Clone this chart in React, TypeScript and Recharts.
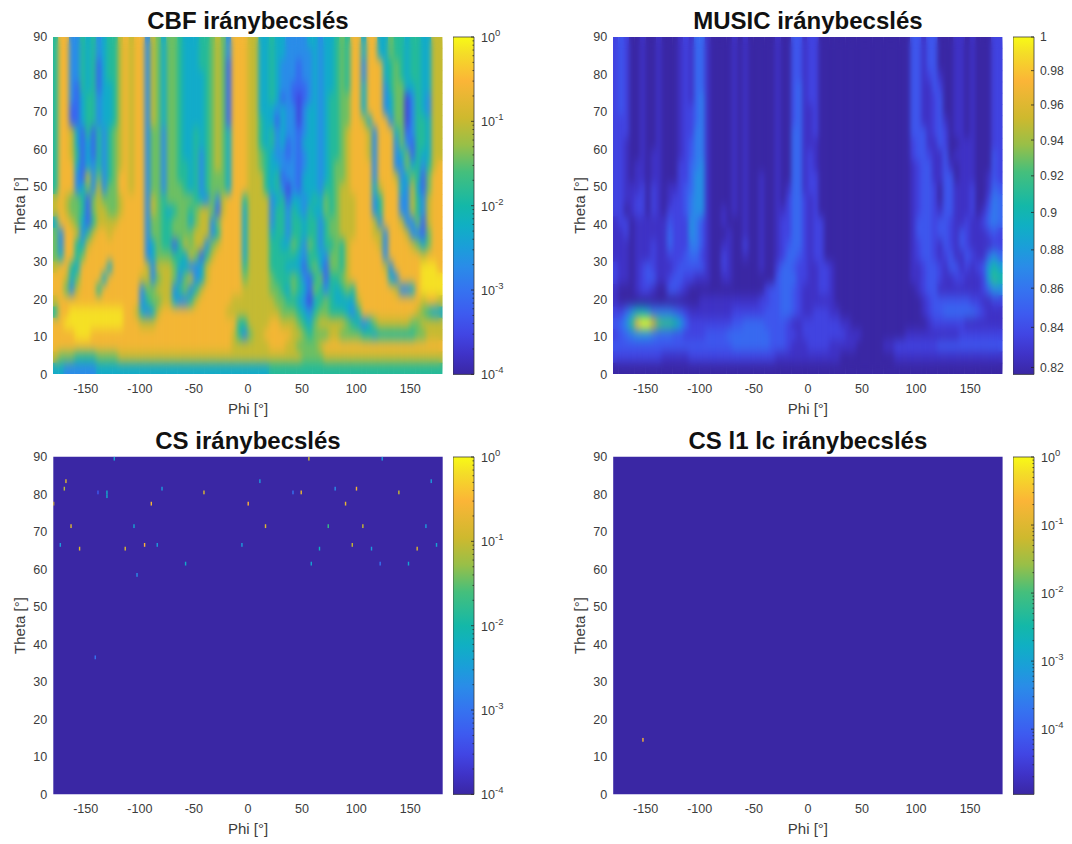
import { ScatterChart, Scatter, XAxis, YAxis, ReferenceArea, Label } from "recharts"

const phiCenters = [
  -177.5, -172.5, -167.5, -162.5, -157.5, -152.5, -147.5, -142.5, -137.5, -132.5, -127.5, -122.5,
  -117.5, -112.5, -107.5, -102.5, -97.5, -92.5, -87.5, -82.5, -77.5, -72.5, -67.5, -62.5,
  -57.5, -52.5, -47.5, -42.5, -37.5, -32.5, -27.5, -22.5, -17.5, -12.5, -7.5, -2.5,
  2.5, 7.5, 12.5, 17.5, 22.5, 27.5, 32.5, 37.5, 42.5, 47.5, 52.5, 57.5,
  62.5, 67.5, 72.5, 77.5, 82.5, 87.5, 92.5, 97.5, 102.5, 107.5, 112.5, 117.5,
  122.5, 127.5, 132.5, 137.5, 142.5, 147.5, 152.5, 157.5, 162.5, 167.5, 172.5, 177.5,
]
const thetaCenters = [
  88.5, 85.5, 82.5, 79.5, 76.5, 73.5, 70.5, 67.5, 64.5, 61.5, 58.5, 55.5, 52.5, 49.5, 46.5,
  43.5, 40.5, 37.5, 34.5, 31.5, 28.5, 25.5, 22.5, 19.5, 16.5, 13.5, 10.5, 7.5, 4.5, 1.5,
]

// one character per cell: 0 = bottom of the colour bar, 9 = top
const cbfRows = [
  "5883354534 5578788376 4665444556 7638887744 5443333443 4456588488 446554554477",
  "5883354534 5578788376 4665444556 7638887744 5443333343 4456588488 446554554477",
  "5883354524 5578788376 4665444556 7628887744 5433323343 4456588388 845654554477",
  "5883354524 5578788376 4665444456 7628887744 5433323343 4456588388 845654554477",
  "5883254524 4578788376 4665444456 7628887744 5433222343 4456588488 835664454477",
  "5883245534 4578788376 4665444456 7628887744 5423212343 4556688488 834661354377",
  "5882245534 4578788376 4665444456 7628887744 4343313443 4556688488 834661354377",
  "5882245534 4578788376 4665444456 7628887754 4243313443 4556688748 883661355477",
  "5887425253 5678788366 3665445456 7648887754 5343323443 4556788873 888462355477",
  "5887424253 5678788366 3665445456 7648887754 5342324443 4556788873 888363255477",
  "5887524253 5678788366 3665445356 7648887765 4332323443 4556788873 888346254477",
  "5888424353 5678788366 3665545356 7648887765 4433323443 4566788883 888336453578",
  "5888327363 5688788366 3665545356 6648887775 4523324443 4566788883 888734652688",
  "5888346373 6688788366 3666545356 6648887775 4531324443 5567788884 788843742688",
  "7876652676 6678888376 5666665436 3788857777 3452443454 6567778883 588833753788",
  "7876652677 6678888376 5456656776 2788847777 3553543544 6567778883 588833753788",
  "4887642577 7788888366 5566646773 6888847777 3553554553 5667778887 388873362788",
  "6388735788 7888888366 5566667773 5888847777 4553554553 5667778887 738887332688",
  "6388547888 8888888346 5525767736 7888847777 5544653653 5565788888 738888764688",
  "6488568888 8888888346 6655476257 8888847777 5555543554 3665788888 838888887888",
  "7885488888 4888888737 7764433478 8888857777 5554442564 2665788888 873888889998",
  "8874688884 8888887736 7763673478 8888867777 6555653256 2556788888 884388889999",
  "8863788858 8888883667 7735635788 8888877777 6654654265 3545658888 888733489999",
  "7888888888 8888883566 7743357888 8887777777 7665543145 6544447888 888888887887",
  "5889999999 9998874347 8888888888 8877777777 7766654356 6555435888 888888876544",
  "8899999999 9998887778 8888888888 8888557777 8877765467 7777654346 777777667777",
  "8888999888 8888888888 8888888888 8887536778 8888776566 6776666554 555555566777",
  "8888888888 8888888888 8888888888 8887777777 8887766667 8888888888 888888888888",
  "7666555566 6677777777 7777777777 7777777777 7777776666 7777777777 777777777777",
  "4433333344 4444444444 4444444444 4444444444 5555555555 5555555555 555555555555",
]

// base 36, one character per cell: 0 = bottom of the colour bar, i (18) = top
const musicRows = [
  "2320010010 0012144100 0010100000 1003312200 0000000000 0000033133 000110100022",
  "2320010010 0012144100 0010100000 1003312200 0000000000 0000033133 000110100022",
  "2320010010 0012144100 0010100000 1003312200 0000000000 0000033133 000110100022",
  "2320010010 0012144100 0010100000 1003312200 0000000000 0000033123 100110100022",
  "2320010010 0012144100 0010100000 1003412200 0000000000 0000033113 200110100022",
  "2320010010 0012145100 0010100000 1003412200 0000000000 0000033112 300110100022",
  "2320010010 0012245100 0010100000 1003411200 0000000000 0000033112 300110100022",
  "2220010010 0012245100 0010100000 1003411200 0000000000 0000033112 310110100022",
  "2220010010 0012255100 0010100000 1004411200 0000000000 0000033312 320110100022",
  "2210010010 0012355100 0010100000 1004411100 0000000000 0000023311 320011100022",
  "2210010110 0012355100 0010100000 1004412100 0000000000 0000023321 130111100032",
  "2210110110 0022456100 0010100000 1004412100 0000000000 0000012331 131011100032",
  "2210110110 0022466100 0010100100 1004412200 0000000000 0000012331 133011100132",
  "2211120210 1123466100 0010100100 1014412200 0000000000 0000012332 033111200143",
  "2211220210 1223566100 0010100100 1024421200 0000000000 0000012332 033111200254",
  "2201220210 2223566100 1010100100 1124421200 0000000000 0000012332 133111201354",
  "1220111111 3222653100 1000100100 1224421220 0000000000 0000013332 332112112454",
  "1120111111 4222653100 0100100100 1224421220 0000000000 0000013332 332132111232",
  "1110111211 4222553100 1100200100 1234421220 0000000000 0000012332 132132111122",
  "1110111211 2223442100 2100100100 1244321220 0000000000 0000012332 123113211464",
  "2110123211 1233333100 2100000100 2443221122 1000000000 0000011233 213312123797",
  "2110123311 2332211100 1100000000 3444221122 1000000000 0000011233 2112211127a9",
  "1000122100 3321000000 0000000023 3443211122 1000000000 0000001233 111111112466",
  "1000000000 0000001111 1111111223 3443211111 1000000000 0000000123 333333221122",
  "2246887555 5432111111 1122222233 3443211222 1100000000 0000000123 344444432111",
  "346agiieba a974222222 2233444433 3321122222 2211000000 0000000012 222221111111",
  "2345666544 4332222333 3444444443 3322122222 2221110000 0000111111 111122222222",
  "3333333333 3333333333 3344444443 3321112222 1111100000 1122222222 333333333333",
  "2222222221 1111222222 2222222222 1111111111 1100000000 0011111111 111111111111",
  "0000000000 0000000000 0000000000 0000000000 0000000000 0000000000 000000000000",
]

const csPhi = [
  -123.6, -168.3, -169.8, -179.7, -163.6, -173.5, -155.7, -113.5, -95.6, -83.9, -105.4, -89.4,
  -79.5, -130.4, -130.4, -138.7, -40.7, 0.2, -5.6, -57.7, -102.6, 11, 56.3, 124.1, 169.4, 41.6,
  49.2, 80.6, 100.3, 139.5, 90.2, 16.2, 74.2, 106.2, 164.5, 66.1, 96.4, 114.2, 156.4, 174.3,
  58.5, 122.2, 148.4, -141.2,
]
const csTheta = [
  89.5, 83.5, 81.5, 77.5, 71.5, 66.5, 65.5, 65.5, 66.5, 66.5, 71.5, 77.5,
  81.5, 80.5, 79.5, 80.5, 80.5, 77.5, 66.5, 61.5, 58.5, 83.5, 89.5, 89.5, 83.5, 80.5,
  80.5, 81.5, 81.5, 80.5, 77.5, 71.5, 71.5, 71.5, 71.5, 65.5, 66.5, 65.5, 65.5, 66.5,
  61.5, 61.5, 61.5, 36.5,
]
const csValue = [
  0.004, 0.15, 0.08, 0.15, 0.15, 0.003, 0.15, 0.15, 0.3, 0.003, 0.004, 0.25,
  0.003, 0.005, 0.005, 0.0005, 0.15, 0.3, 0.003, 0.005, 0.002, 0.003, 0.1, 0.003, 0.003, 0.001,
  0.2, 0.002, 0.25, 0.1, 0.2, 0.15, 0.02, 0.1, 0.003, 0.006, 0.1, 0.003, 0.15, 0.004,
  0.004, 0.001, 0.004, 0.001,
]
const l1Phi = [-152.5]
const l1Theta = [14.5]
const l1Value = [0.2]

const phiTicks = [-150, -100, -50, 0, 50, 100, 150]
const thetaTicks = [0, 10, 20, 30, 40, 50, 60, 70, 80, 90]
const logMajors4 = [1e-4, 1e-3, 1e-2, 1e-1, 1]
const logMinors4 = [
  2e-4, 3e-4, 4e-4, 5e-4, 6e-4, 7e-4, 8e-4, 9e-4, 2e-3, 3e-3, 4e-3, 5e-3, 6e-3, 7e-3, 8e-3, 9e-3,
  2e-2, 3e-2, 4e-2, 5e-2, 6e-2, 7e-2, 8e-2, 9e-2, 2e-1, 3e-1, 4e-1, 5e-1, 6e-1, 7e-1, 8e-1, 9e-1,
]
const logMinors5 = [2e-5, 3e-5, 4e-5, 5e-5, 6e-5, 7e-5, 8e-5, 9e-5, ...logMinors4]
const musicTicks = [0.82, 0.84, 0.86, 0.88, 0.9, 0.92, 0.94, 0.96, 0.98, 1]

const parulaStops: [number, string][] = [
  [0, "#3a27a4"],
  [0.06, "#3f33c8"],
  [0.12, "#4146e4"],
  [0.18, "#3d5bf0"],
  [0.25, "#3573f0"],
  [0.32, "#2a8ce8"],
  [0.38, "#1a9fd8"],
  [0.44, "#10afc4"],
  [0.5, "#14b8a8"],
  [0.6, "#45bf7c"],
  [0.68, "#98bf48"],
  [0.76, "#ceb92e"],
  [0.87, "#fbb537"],
  [0.95, "#f4dc28"],
  [1, "#f8fa16"],
]

const FONT = "'Liberation Sans', Arial, sans-serif"
const TEXT = "#3c3c3c"
const PLOT_W = 389.4
const PLOT_H = 337.4
const PLOT_TOP = [36.7, 456.8]
const PLOT_LEFT = [53.3, 613.2]
const SQUASH = 2 // heat layer is drawn half height and stretched back, so its blur is stronger vertically

function parula(t: number) {
  const v = Math.max(0, Math.min(1, t))
  for (let i = 1; i < parulaStops.length; i++) {
    const [t1, c1] = parulaStops[i]
    if (v <= t1) {
      const [t0, c0] = parulaStops[i - 1]
      const f = (v - t0) / (t1 - t0)
      const ch = (c: string, k: number) => parseInt(c.slice(k, k + 2), 16)
      const mix = (k: number) => Math.round(ch(c0, k) + (ch(c1, k) - ch(c0, k)) * f)
      return `rgb(${mix(1)},${mix(3)},${mix(5)})`
    }
  }
  return parulaStops[parulaStops.length - 1][1]
}

function buildCells(rows: string[], top: number) {
  const cells: { phi: number; theta: number; t: number }[] = []
  rows.forEach((row, r) => {
    const chars = row.replace(/ /g, "")
    for (let c = 0; c < chars.length; c++) {
      cells.push({ phi: phiCenters[c], theta: thetaCenters[r], t: parseInt(chars[c], 36) / top })
    }
  })
  return cells
}

function buildSpikes(phi: number[], theta: number[], value: number[], floor: number) {
  return phi.map((p, i) => ({
    phi: p,
    theta: theta[i],
    t: (Math.log10(value[i]) - Math.log10(floor)) / -Math.log10(floor),
  }))
}

const cellW = PLOT_W / phiCenters.length
const cellH = PLOT_H / thetaCenters.length / SQUASH

function HeatCell(props: any) {
  const { cx, cy, payload } = props
  return (
    <rect x={cx - cellW / 2 - 0.2} y={cy - cellH / 2 - 0.2} width={cellW + 0.4} height={cellH + 0.4} fill={parula(payload.t)} />
  )
}

function SpikeCell(props: any) {
  const { cx, cy, payload } = props
  return <rect x={cx - 0.7} y={cy - 1.9} width={1.4} height={3.8} fill={parula(payload.t)} />
}

function HeatLayer({ cells, blur }: any) {
  return (
    <div
      style={{
        position: "absolute",
        left: 0,
        top: 0,
        transform: `scaleY(${SQUASH})`,
        transformOrigin: "0 0",
        filter: blur ? `blur(${blur}px)` : undefined,
      }}
    >
      <ScatterChart width={PLOT_W} height={PLOT_H / SQUASH} margin={{ top: 0, left: 0, right: 0, bottom: 0 }}>
        <XAxis type="number" dataKey="phi" domain={[-180, 180]} allowDataOverflow hide />
        <YAxis type="number" dataKey="theta" domain={[0, 90]} allowDataOverflow hide />
        <Scatter data={cells} shape={HeatCell} isAnimationActive={false} />
      </ScatterChart>
    </div>
  )
}

const tickStyle = { fill: TEXT, fontSize: 12.6, fontFamily: FONT }

function Panel({ col, row, title, cells, spikes }: any) {
  const left = PLOT_LEFT[col]
  const top = PLOT_TOP[row]
  const yAxisW = 40
  const xAxisH = 46
  const offsetX = col === 0 ? 0 : 560
  const offsetY = row === 0 ? 0 : 420
  const width = PLOT_W + left - offsetX
  return (
    <div style={{ position: "absolute", left: offsetX, top: offsetY }}>
      <div
        style={{
          position: "absolute",
          left: left - offsetX,
          width: PLOT_W,
          top: top - offsetY - 30,
          textAlign: "center",
          font: `bold 24px ${FONT}`,
          color: "#111",
          whiteSpace: "nowrap",
          zIndex: 2,
        }}
      >
        {title}
      </div>
      <ScatterChart
        width={width}
        height={top - offsetY + PLOT_H + xAxisH}
        margin={{ top: top - offsetY, left: left - offsetX - yAxisW, right: 0, bottom: 0 }}
      >
        <XAxis
          type="number"
          dataKey="phi"
          domain={[-180, 180]}
          allowDataOverflow
          ticks={phiTicks}
          interval={0}
          height={xAxisH}
          axisLine={false}
          tickLine={false}
          tickSize={0}
          tickMargin={10}
          tick={tickStyle}
        >
          <Label value="Phi [°]" position="insideBottom" offset={6} fill={TEXT} fontSize={15} fontFamily={FONT} />
        </XAxis>
        <YAxis
          type="number"
          dataKey="theta"
          domain={[0, 90]}
          allowDataOverflow
          ticks={thetaTicks}
          interval={0}
          width={yAxisW}
          axisLine={false}
          tickLine={false}
          tickSize={0}
          tickMargin={6}
          tick={tickStyle}
        >
          <Label value="Theta [°]" angle={-90} position="insideLeft" offset={6} fill={TEXT} fontSize={15} fontFamily={FONT} style={{ textAnchor: "middle" }} />
        </YAxis>
        {spikes && <ReferenceArea x1={-180} x2={180} y1={0} y2={90} fill={parula(0)} fillOpacity={1} stroke="none" />}
        {spikes && <Scatter data={spikes} shape={SpikeCell} isAnimationActive={false} />}
        {!spikes && <Scatter data={[]} isAnimationActive={false} />}
      </ScatterChart>
      {cells && (
        <div
          style={{
            position: "absolute",
            left: left - offsetX,
            top: top - offsetY,
            width: PLOT_W,
            height: PLOT_H,
            overflow: "hidden",
          }}
        >
          <HeatLayer cells={cells} />
          <HeatLayer cells={cells} blur={2.6} />
        </div>
      )}
    </div>
  )
}

function LogTick({ x, y, payload, majors }: any) {
  const isMajor = majors.includes(payload.value)
  const len = isMajor ? 3 : 1.5
  return (
    <g>
      <line x1={x - len} x2={x} y1={y} y2={y} stroke="#262626" strokeWidth={0.8} />
      {isMajor && (
        <text x={x + 7} y={y + 5} fill={TEXT} fontSize={12.6} fontFamily={FONT}>
          10
          <tspan dy={-6} fontSize={9.5}>
            {Math.round(Math.log10(payload.value))}
          </tspan>
        </text>
      )}
    </g>
  )
}

function PlainTick({ x, y, payload }: any) {
  return (
    <g>
      <line x1={x - 3} x2={x} y1={y} y2={y} stroke="#262626" strokeWidth={0.8} />
      <text x={x + 6} y={y + 4.5} fill={TEXT} fontSize={12.2} fontFamily={FONT}>
        {payload.value}
      </text>
    </g>
  )
}

function Colorbar({ col, row, domain, ticks, majors }: any) {
  const left = col === 0 ? 453.3 : 1013
  const top = PLOT_TOP[row]
  const barW = 21
  const gutter = 38
  const id = `parula-${col}-${row}`
  return (
    <div style={{ position: "absolute", left, top: top - 10 }}>
      <ScatterChart
        width={barW + gutter}
        height={PLOT_H + 20}
        margin={{ top: 10, bottom: 10, left: 0, right: 0 }}
      >
        <defs>
          <linearGradient id={id} x1="0" y1="1" x2="0" y2="0">
            {parulaStops.map(([t, c]) => (
              <stop key={t} offset={t} stopColor={c} />
            ))}
          </linearGradient>
        </defs>
        <XAxis type="number" dataKey="x" domain={[0, 1]} allowDataOverflow hide />
        <YAxis
          type="number"
          dataKey="y"
          orientation="right"
          scale="log"
          domain={domain}
          allowDataOverflow
          ticks={ticks}
          interval={0}
          width={gutter}
          axisLine={false}
          tickLine={false}
          tickSize={0}
          tickMargin={0}
          tick={majors ? <LogTick majors={majors} /> : <PlainTick />}
        />
        <ReferenceArea
          x1={0}
          x2={1}
          y1={domain[0]}
          y2={domain[1]}
          fill={`url(#${id})`}
          fillOpacity={1}
          stroke="#3a3a3a"
          strokeWidth={0.8}
        />
        <Scatter data={[]} isAnimationActive={false} />
      </ScatterChart>
    </div>
  )
}

export default function App() {
  const cbfCells = buildCells(cbfRows, 9.4)
  const musicCells = buildCells(musicRows, 18)
  const csSpikes = buildSpikes(csPhi, csTheta, csValue, 1e-4)
  const l1Spikes = buildSpikes(l1Phi, l1Theta, l1Value, 1.1e-5)
  return (
    <div style={{ position: "absolute", left: 0, top: 0, width: 1072, height: 844, background: "#fff", overflow: "hidden" }}>
      <Panel col={0} row={0} title="CBF iránybecslés" cells={cbfCells} />
      <Panel col={1} row={0} title="MUSIC iránybecslés" cells={musicCells} />
      <Panel col={0} row={1} title="CS iránybecslés" spikes={csSpikes} />
      <Panel col={1} row={1} title="CS l1 lc iránybecslés" spikes={l1Spikes} />
      <Colorbar col={0} row={0} domain={[1e-4, 1]} ticks={[...logMajors4, ...logMinors4]} majors={logMajors4} />
      <Colorbar col={1} row={0} domain={[0.8166, 1]} ticks={musicTicks} />
      <Colorbar col={0} row={1} domain={[1e-4, 1]} ticks={[...logMajors4, ...logMinors4]} majors={logMajors4} />
      <Colorbar col={1} row={1} domain={[1.1e-5, 1]} ticks={[...logMajors4, ...logMinors5]} majors={logMajors4} />
    </div>
  )
}
